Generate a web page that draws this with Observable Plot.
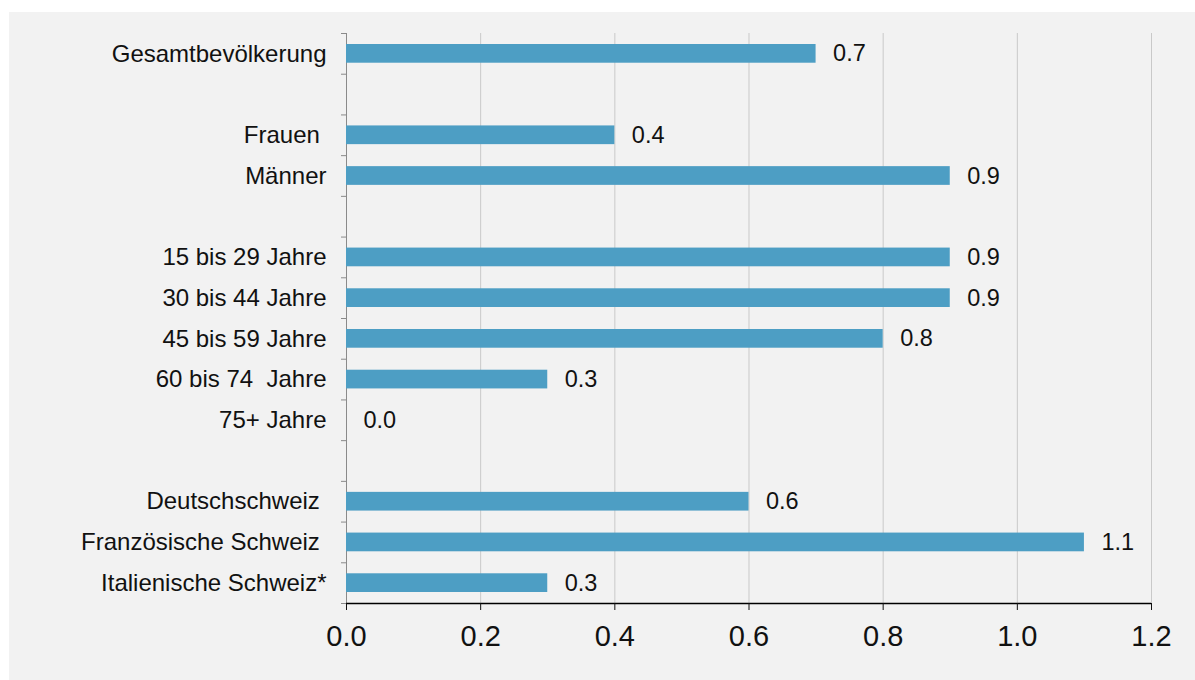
<!DOCTYPE html>
<html><head><meta charset="utf-8">
<script src="https://cdn.jsdelivr.net/npm/d3@7"></script>
<script src="https://cdn.jsdelivr.net/npm/@observablehq/plot@0.6"></script>
<style>
html,body{margin:0;padding:0;background:#fff;}
#panel{position:absolute;left:9px;top:12px;width:1186px;height:668px;background:#f2f2f2;}
#chart{position:absolute;left:0;top:0;}
</style></head><body>
<div id="panel"></div><div id="chart"></div>
<script>
const labels = ["Gesamtbevölkerung", "Frauen\u00a0", "Männer", "15 bis 29 Jahre", "30 bis 44 Jahre", "45 bis 59 Jahre", "60 bis 74\u00a0 Jahre", "75+ Jahre", "Deutschschweiz\u00a0", "Französische Schweiz\u00a0", "Italienische Schweiz*"];
const values = [0.7, 0.4, 0.9, 0.9, 0.9, 0.8, 0.3, 0.0, 0.6, 1.1, 0.3];
const gaps = ["gap1", "gap2", "gap3"];
const rowOrder = [labels[0], gaps[0], labels[1], labels[2], gaps[1], labels[3], labels[4], labels[5], labels[6], labels[7], gaps[2], labels[8], labels[9], labels[10]];
const xTicks = [0, 0.2, 0.4, 0.6, 0.8, 1.0, 1.2];

const data = labels.map((l, i) => ({label: l, value: values[i]}));

const W = 1195, H = 680, mT = 33, mB = 77, mL = 346, mR = 44;
const step = (H - mT - mB) / rowOrder.length;
const fmt = d3.format(".1f");

const chart = Plot.plot({
  width: W, height: H,
  marginTop: mT, marginBottom: mB, marginLeft: mL, marginRight: mR,
  style: {background: "transparent", fontFamily: "'Liberation Sans', Arial, sans-serif", color: "#111"},
  x: {domain: [0, 1.2], label: null},
  y: {domain: rowOrder, padding: 0, round: false, label: null},
  marks: [
    Plot.gridX(xTicks.slice(1), {stroke: "#c9c9c9", strokeOpacity: 1}),
    Plot.ruleX([0], {stroke: "#8a8a8a"}),
    Plot.barX(data, {x: "value", y: "label", fill: "#4d9ec4", insetTop: 11, insetBottom: 11}),
    Plot.text(data, {x: "value", y: "label", text: d => fmt(d.value), dx: 17, textAnchor: "start", fontSize: 23.5, fill: "#111"}),
    Plot.axisY({tickSize: 0, tickPadding: 20, fontSize: 24, fill: "#111", label: null, tickFormat: d => gaps.includes(d) ? "" : d}),
    Plot.axisY(rowOrder, {tickSize: 5, dy: -step / 2, stroke: "#8a8a8a", label: null, tickFormat: () => ""}),
    Plot.axisY([rowOrder[rowOrder.length - 1]], {tickSize: 5, dy: step / 2, stroke: "#8a8a8a", label: null, tickFormat: () => ""}),
    Plot.ruleY([rowOrder[rowOrder.length - 1]], {dy: step / 2, x1: 0, x2: 1.2, stroke: "#000", strokeWidth: 1.3}),
    Plot.axisX(xTicks, {tickSize: 7, tickPadding: 15, fontSize: 29, stroke: "#111", fill: "#111", label: null, tickFormat: fmt})
  ]
});
document.getElementById("chart").append(chart);
</script>
</body></html>
